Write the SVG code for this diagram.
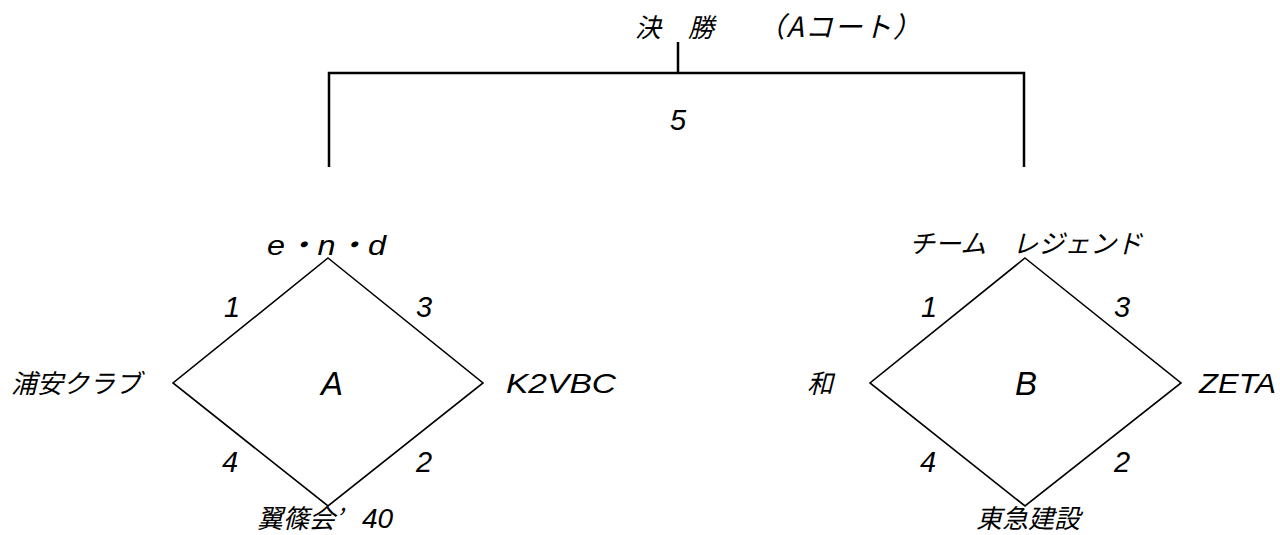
<svg xmlns="http://www.w3.org/2000/svg" width="1280" height="535" viewBox="0 0 1280 535">
<style>
.t{font-family:"Liberation Sans","Noto Sans CJK JP",sans-serif;font-style:italic;fill:#000;font-size:26px}
.j{font-family:"Noto Sans CJK JP",sans-serif;font-style:italic;fill:#000;font-size:26px}
.n{font-family:"Liberation Sans",sans-serif;font-style:italic;fill:#000;font-size:29px;text-anchor:middle}
.big{font-family:"Liberation Sans",sans-serif;font-style:italic;fill:#000;font-size:33px;text-anchor:middle}
.br{fill:none;stroke:#000;stroke-width:2.5}
.dm{fill:none;stroke:#000;stroke-width:1.6}
</style>
<rect width="1280" height="535" fill="#fff"/>
<g id="title">
<text class="j" y="37"><tspan x="635">決</tspan><tspan x="688">勝</tspan><tspan x="757" style="font-size:28px" textLength="164" lengthAdjust="spacing">（Aコート）</tspan></text>
</g>
<g id="connectors">
<path class="br" d="M678 42V73M329 167V73H1024V167"/>
<text class="n" x="678" y="130">5</text>
</g>
<g id="pool-A">
<polygon class="dm" points="328,258 483,383 328,506 173,383"/>
<text class="big" x="332" y="395">A</text>
<text class="n" x="232" y="317">1</text>
<text class="n" x="424" y="317">3</text>
<text class="n" x="230" y="472">4</text>
<text class="n" x="424" y="472">2</text>
</g>
<g id="team-end"><text class="t" style="font-size:28px" x="267" y="255" textLength="119" lengthAdjust="spacingAndGlyphs">e・n・d</text></g>
<g id="team-urayasu"><text class="j" x="11" y="393">浦安クラブ</text></g>
<g id="team-k2vbc"><text class="t" style="font-size:28px" x="506" y="393" textLength="110" lengthAdjust="spacingAndGlyphs">K2VBC</text></g>
<g id="team-yokushinkai"><text class="j" y="528"><tspan x="257">翼篠会’</tspan><tspan x="362" style="font-family:'Liberation Sans',sans-serif;font-size:28px">40</tspan></text></g>
<g id="pool-B">
<polygon class="dm" points="1025,258 1181,383 1025,506 870,383"/>
<text class="big" x="1026" y="395">B</text>
<text class="n" x="929" y="317">1</text>
<text class="n" x="1122" y="317">3</text>
<text class="n" x="928" y="472">4</text>
<text class="n" x="1122" y="472">2</text>
</g>
<g id="team-legend"><text class="j" x="909" y="253">チーム　レジェンド</text></g>
<g id="team-nagomi"><text class="j" x="807" y="393">和</text></g>
<g id="team-zeta"><text class="t" style="font-size:28px" x="1199" y="393" textLength="77" lengthAdjust="spacingAndGlyphs">ZETA</text></g>
<g id="team-tokyu"><text class="j" x="976" y="528">東急建設</text></g>
</svg>
